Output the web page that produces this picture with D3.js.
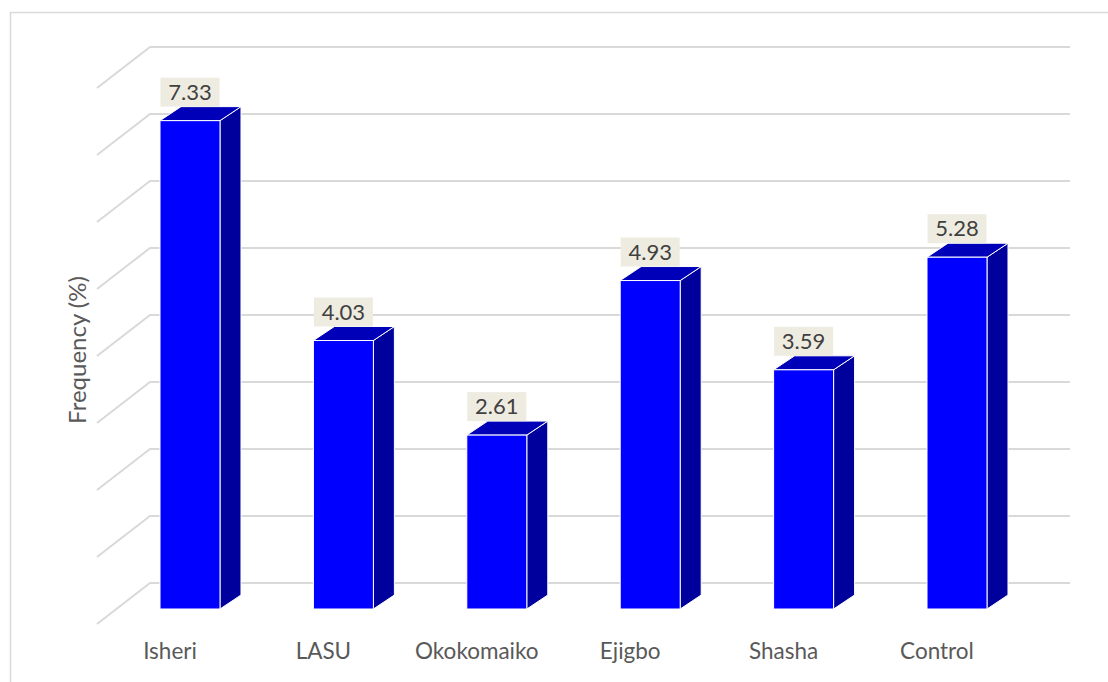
<!DOCTYPE html>
<html><head><meta charset="utf-8">
<script src="https://cdn.jsdelivr.net/npm/d3@7/dist/d3.min.js"></script>
<style>body{margin:0;background:#fff;}svg{display:block;}</style>
</head><body>
<svg id="chart" width="1108" height="682"></svg>
<script>
const categories = ["Isheri", "LASU", "Okokomaiko", "Ejigbo", "Shasha", "Control"];
const values = [7.33, 4.03, 2.61, 4.93, 3.59, 5.28];
const valueLabels = ["7.33", "4.03", "2.61", "4.93", "3.59", "5.28"];
const gridTicks = [0, 1, 2, 3, 4, 5, 6, 7, 8];
const yTitle = "Frequency (%)";

const svg = d3.select("#chart");
const FONT = "Lato, 'Open Sans', sans-serif";

// chart border
svg.append("rect").attr("x", 10.5).attr("y", 12.5).attr("width", 1110).attr("height", 690)
  .attr("fill", "#fff").attr("stroke", "#D9D9D9").attr("stroke-width", 1.5);

// scales
const yBack = d3.scaleLinear().domain([0, 8]).range([583, 47]);
const yFront = d3.scaleLinear().domain([0, 8]).range([609, 76]);
const x = d3.scaleBand().domain(categories).range([113.3, 1033.7]).paddingInner(0.609).paddingOuter(0.3045);
const bw = x.bandwidth();
const DX = 21, DY = -14;
const wallLeft = 150, wallRight = 1070, sideDX = -53, sideDY = 41;

// gridlines (back wall + side wall diagonal)
const grid = svg.append("g");
gridTicks.forEach(t => {
  const yy = yBack(t);
  grid.append("path")
    .attr("d", `M${wallLeft + sideDX},${yy + sideDY} L${wallLeft},${yy} L${wallRight},${yy}`)
    .attr("fill", "none").attr("stroke", "#D9D9D9").attr("stroke-width", 2);
});

// bars
const bars = svg.append("g").selectAll("g").data(categories).join("g");
bars.each(function(c, i) {
  const g = d3.select(this);
  const x0 = x(c), x1 = x0 + bw;
  const yt = yFront(values[i]), yb = yFront(0);
  g.append("path")
    .attr("d", `M${x1},${yt} L${x1 + DX},${yt + DY} L${x1 + DX},${yb + DY} L${x1},${yb} Z`)
    .attr("fill", "#00009C").attr("stroke", "#fff").attr("stroke-width", 1).attr("stroke-linejoin", "round");
  g.append("path")
    .attr("d", `M${x0},${yt} L${x0 + DX},${yt + DY} L${x1 + DX},${yt + DY} L${x1},${yt} Z`)
    .attr("fill", "#0000B8").attr("stroke", "#fff").attr("stroke-width", 1).attr("stroke-linejoin", "round");
  g.append("rect").attr("x", x0).attr("y", yt).attr("width", bw).attr("height", yb - yt)
    .attr("fill", "#0000FF").attr("stroke", "#fff").attr("stroke-width", 1);
});

// data labels
const lab = svg.append("g").selectAll("g").data(categories).join("g");
lab.each(function(c, i) {
  const g = d3.select(this);
  const cx = x(c) + bw / 2;
  const bottom = yFront(values[i]) + DY;
  const w = 59, h = 29;
  g.append("rect").attr("x", cx - w / 2).attr("y", bottom - h).attr("width", w).attr("height", h)
    .attr("fill", "#EEECE1");
  g.append("text").attr("x", cx).attr("y", bottom - 7)
    .attr("text-anchor", "middle").attr("font-family", FONT).attr("font-size", 22)
    .attr("fill", "#404040").text(valueLabels[i]);
});

// category labels
svg.append("g").selectAll("text").data(categories).join("text")
  .attr("x", c => x(c) + bw / 2 - 20).attr("y", 659)
  .attr("text-anchor", "middle").attr("font-family", FONT).attr("font-size", 22.5)
  .attr("fill", "#595959").text(c => c);

// y title
svg.append("text").attr("transform", "translate(86,350) rotate(-90)")
  .attr("text-anchor", "middle").attr("font-family", FONT).attr("font-size", 24)
  .attr("fill", "#595959").text(yTitle);
</script>
</body></html>
